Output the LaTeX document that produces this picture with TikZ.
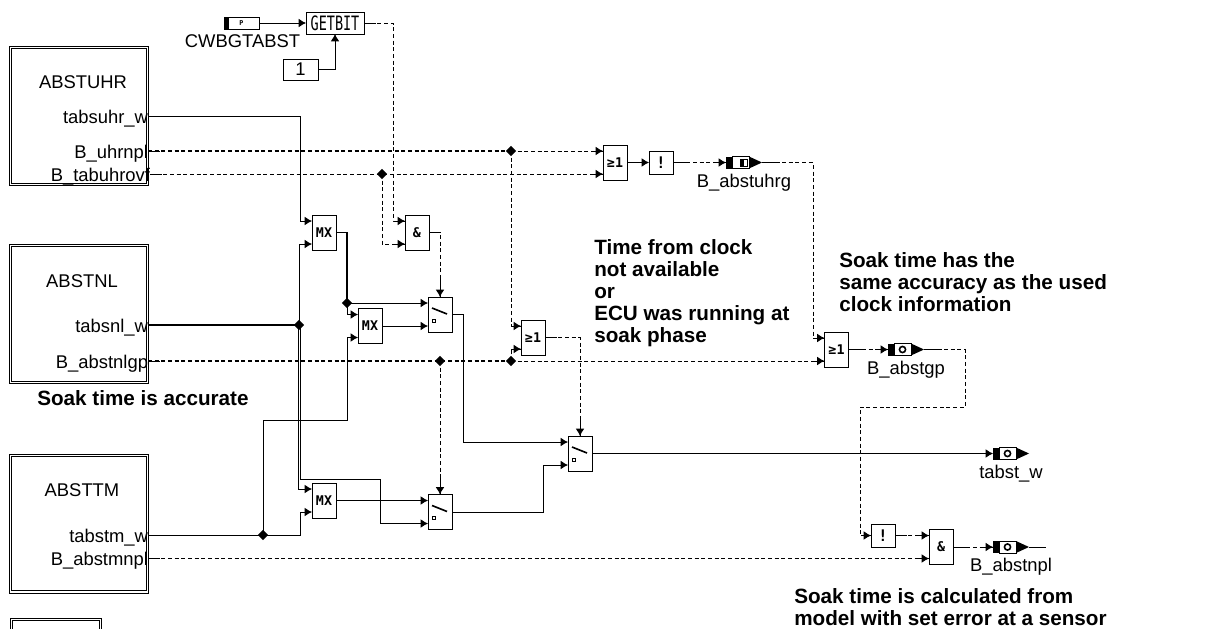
\documentclass[tikz,border=0pt]{standalone}
\usepackage{fontspec}
\setmainfont{Liberation Sans}
\newfontfamily\gatefont{DejaVu Sans Mono}
\usetikzlibrary{arrows.meta,positioning,shapes.geometric}
\tikzset{
  blkbox/.style={draw,fill=white,inner sep=0,outer sep=0,minimum width=18pt,minimum height=26.25pt,font=\gatefont\bfseries\fontsize{10}{12}\selectfont},
  notbox/.style={blkbox,minimum height=17.25pt,font=\gatefont\bfseries\fontsize{12}{12}\selectfont},
  modbox/.style={draw,double,double distance=1pt,line width=.75pt,minimum width=102.5pt,minimum height=102.5pt,inner sep=0},
  modtxt/.style={font=\fontsize{13.8}{16}\selectfont,text height=10.5pt,text depth=0pt,inner sep=0,outer sep=0},
  portlbl/.style={modtxt,anchor=east},
  note/.style={font=\bfseries\fontsize{15.5}{16.5}\selectfont,align=left,anchor=west,inner sep=0},
  markbox/.style={inner sep=0,outer sep=0,minimum width=27pt,minimum height=9pt},
  jct/.style={diamond,fill=black,inner sep=0,minimum size=8pt},
  wire/.style={line width=.7pt,arrows=-{Latex[length=5.5pt,width=6.5pt]}},
  line/.style={line width=.7pt},
  fatline/.style={line width=1.3pt},
  sig/.style={wire,dash pattern=on 3pt off 2pt},
  sigline/.style={line,dash pattern=on 3pt off 2pt},
  fatsig/.style={sigline,line width=1.1pt}
}
% gate with its two inputs (name)(x)(y)(text)
\newcommand{\gate}[4]{%
  \node[blkbox] (#1) at (#2,#3) {#4};
  \coordinate (#1a) at ([shift={(0,-11.5)}]#1.west);
  \coordinate (#1b) at ([shift={(0,11.5)}]#1.west);}
% output marker with label below
\newcommand{\outmark}[4]{%
  \node[markbox] (#1) at (#2,#3) {};
  \fill ([shift={(-18,-6)}]#1.center) rectangle ++(6,12);
  \draw[fill=white] ([shift={(-12,-6)}]#1.center) rectangle ++(17,12);
  \fill ([shift={(5,-6)}]#1.center) -- ([shift={(18,0)}]#1.center) -- ([shift={(5,6)}]#1.center) -- cycle;
  \node[modtxt,below=3.5pt of #1] (#1lbl) {#4};}
\begin{document}
\begin{tikzpicture}[x=.75pt,y=-.75pt]
\useasboundingbox (0,0) rectangle (1223,628);
% modules
\node[modbox] (modu) at (79,116) {};
\node[modbox] (modn) at (79,314) {};
\node[modbox] (modt) at (79,523.5) {};
\begin{scope}
\clip (0,0) rectangle (1223,628);
\node[modbox,minimum width=67pt,anchor=north west] (modx) at (10.7,618.7) {};
\end{scope}
\node[modtxt] (nameu) at (83,81) {ABSTUHR};
\node[modtxt] (namen) at (82,280) {ABSTNL};
\node[modtxt] (namet) at (82,489) {ABSTTM};
\node[portlbl] (tabsuhr) at (148,116) {tabsuhr\_w};
\node[portlbl] (uhrnpl) at (148,151) {B\_uhrnpl};
\node[portlbl] (tabuhr) at (150,174) {B\_tabuhrovf};
\node[portlbl] (tabsnl) at (148,325) {tabsnl\_w};
\node[portlbl] (nlgp) at (148,361) {B\_abstnlgp};
\node[portlbl] (tabstm) at (148,535) {tabstm\_w};
\node[portlbl] (mnpl) at (148,558.5) {B\_abstmnpl};
% gates
\gate{mxa}{324}{232.5}{MX}
\gate{mxb}{370}{326}{MX}
\gate{mxc}{324}{500.5}{MX}
\gate{anda}{417}{232.5}{\&}
\gate{andb}{941}{547}{\&}
\gate{ora}{615}{162.5}{≥1}
\gate{orb}{533}{337.5}{≥1}
\gate{orc}{836.5}{349.5}{≥1}
\gate{swa}{440}{314.5}{}
\gate{swb}{440}{512}{}
\gate{swc}{580}{453.5}{}
\node[notbox] (nota) at (661,162.5) {!};
\node[notbox] (notb) at (883,535.5) {!};
\foreach \sw in {swa,swb,swc} {
  \draw[line width=1.2pt] ([shift={(-8,-6.5)}]\sw.center) -- ([shift={(7,-0.5)}]\sw.center);
  \draw[line width=.6pt] ([shift={(-7.5,4.5)}]\sw.center) rectangle ++(3,3);
}
% top source
\node[blkbox,minimum width=43.5pt,minimum height=16.5pt,font=\gatefont\fontsize{11}{12}\selectfont] (gbit) at (335,23) {\scalebox{.92}[1.35]{GETBIT}};
\node[blkbox,minimum width=26.25pt,minimum height=15.75pt,font=\fontsize{13.8}{16}\selectfont] (cnst) at (300.5,69.5) {1};
\node[markbox,minimum width=26.25pt] (psrc) at (241.5,23) {};
\draw[fill=white] (psrc.south west) rectangle (psrc.north east);
\fill (psrc.south west) rectangle ([xshift=4pt]psrc.north west);
\node[font=\gatefont\bfseries\fontsize{5}{5}\selectfont,inner sep=0] (psrctxt) at (psrc.center) {P};
\node[modtxt] (psrclbl) at (242.5,40) {CWBGTABST};
% outputs
\outmark{mkuhr}{744}{162.5}{B\_abstuhrg}
\outmark{mkgp}{906}{349.5}{B\_abstgp}
\outmark{mktab}{1011}{453.5}{tabst\_w}
\outmark{mknpl}{1011}{547}{B\_abstnpl}
\draw[line width=.6pt] ([shift={(-4,-3.5)}]mkuhr.center) rectangle ++(7,7);
\fill ([shift={(-4,-3.5)}]mkuhr.center) rectangle ++(3.5,7);
\foreach \mk in {mkgp,mktab,mknpl} {
  \draw[line width=1.2pt] ([shift={(-3.5,0)}]\mk.center) circle[radius=2.3pt];
}
% junctions
\node[jct] (jsnl) at (299,325) {};
\node[jct] (jtm) at (263,535) {};
\node[jct] (jmx) at (347,303) {};
\node[jct] (jovf) at (382,174) {};
\node[jct] (juhr) at (511,151) {};
\node[jct] (jsw) at (440,361) {};
\node[jct] (jor) at (511,361) {};
% solid connectors
\draw[wire] (psrc.east) -- (gbit.west);
\draw[wire] (cnst.east) -| (gbit.south);
\draw[wire] (tabsuhr.east) -- (300,116) |- (mxaa);
\draw[fatline] (tabsnl.east) -- (jsnl.center);
\draw[wire] (jsnl.center) |- (mxab);
\draw[wire] ([xshift=-.75pt]jsnl.center) |- (mxca);
\draw[wire] ([xshift=.75pt]jsnl.center) -- (300,479) -- (380,479) |- (swbb);
\draw[fatline] (mxa.east) -| (jmx.center);
\draw[wire] (jmx.center) -- (swaa);
\draw[wire] (jmx.center) |- (mxba);
\draw[wire] (mxb.east) -- (swab);
\draw[wire] (tabstm.east) -- (300,535) |- (mxcb);
\draw[wire] (jtm.center) |- (347,420) |- (mxbb);
\draw[wire] (mxc.east) -- (swba);
\draw[wire] (swa.east) -- (463,314.5) |- (swca);
\draw[wire] (swb.east) -- (543,512) |- (swcb);
\draw[wire] (swc.east) -- (mktab.west);
\draw[wire] (ora.east) -- (nota.west);
% dashed connectors
\draw[sig] (gbit.east) -- (393,23) |- (andaa);
\draw[fatsig] (uhrnpl.east) -- (juhr.center);
\draw[sig] (juhr.center) -- (oraa);
\draw[sig] (juhr.center) |- (orba);
\draw[sig] (tabuhr.east) -- (orab);
\draw[sig] (jovf.center) |- (andab);
\draw[sig] (anda.east) -| (swa.north);
\draw[sig] (jsw.center) -- (swb.north);
\draw[fatsig] (nlgp.east) -- (jor.center);
\draw[sig] (jor.center) -- (orcb);
\draw[sig] (jor.center) |- (orbb);
\draw[sig] (orb.east) -| (swc.north);
\draw[sig] (nota.east) -- (mkuhr.west);
\draw[sig] (mkuhr.east) -- (813,162.5) |- (orca);
\draw[sig] (orc.east) -- (mkgp.west);
\draw[sig] (mkgp.east) -- (965,349.5) |- (860,407) |- (notb.west);
\draw[sig] (notb.east) -- (andba);
\draw[sig] (mnpl.east) -- (andbb);
\draw[sig] (andb.east) -- (mknpl.west);
\draw[line] (mknpl.east) -- (1046,547);
% solid stubs at the ends of the dashed runs
\foreach \st in {uhrnpl.east,tabuhr.east,nlgp.east,mnpl.east,gbit.east,anda.east,orb.east,notb.east} {
  \draw[line] (\st) -- ++(12,0);
}
\foreach \st in {nota.east,andb.east,orc.east} {
  \draw[line] (\st) -- ++(15,0);
}
\foreach \st in {mkuhr.east,mkgp.east} {
  \draw[line] (\st) -- ++(18,0);
}
\foreach \st in {oraa,orab,orba,orbb,orca,orcb,andaa,andab,notb.west,andba,andbb,mkuhr.west,mkgp.west,mknpl.west} {
  \draw[line] (\st) -- ++(-10,0);
}
\foreach \st in {swa.north,swb.north,swc.north} {
  \draw[line] (\st) -- ++(0,-18);
}
% notes
\node[note] (noteacc) at (37,398.5) {Soak time is accurate};
\node[note] (noteclk) at (594,293) {Time from clock\\not available\\or\\ECU was running at\\soak phase};
\node[note] (notesame) at (839,282) {Soak time has the\\same accuracy as the used\\clock information};
\node[note] (notecalc) at (794,607) {Soak time is calculated from\\model with set error at a sensor};
\end{tikzpicture}
\end{document}
